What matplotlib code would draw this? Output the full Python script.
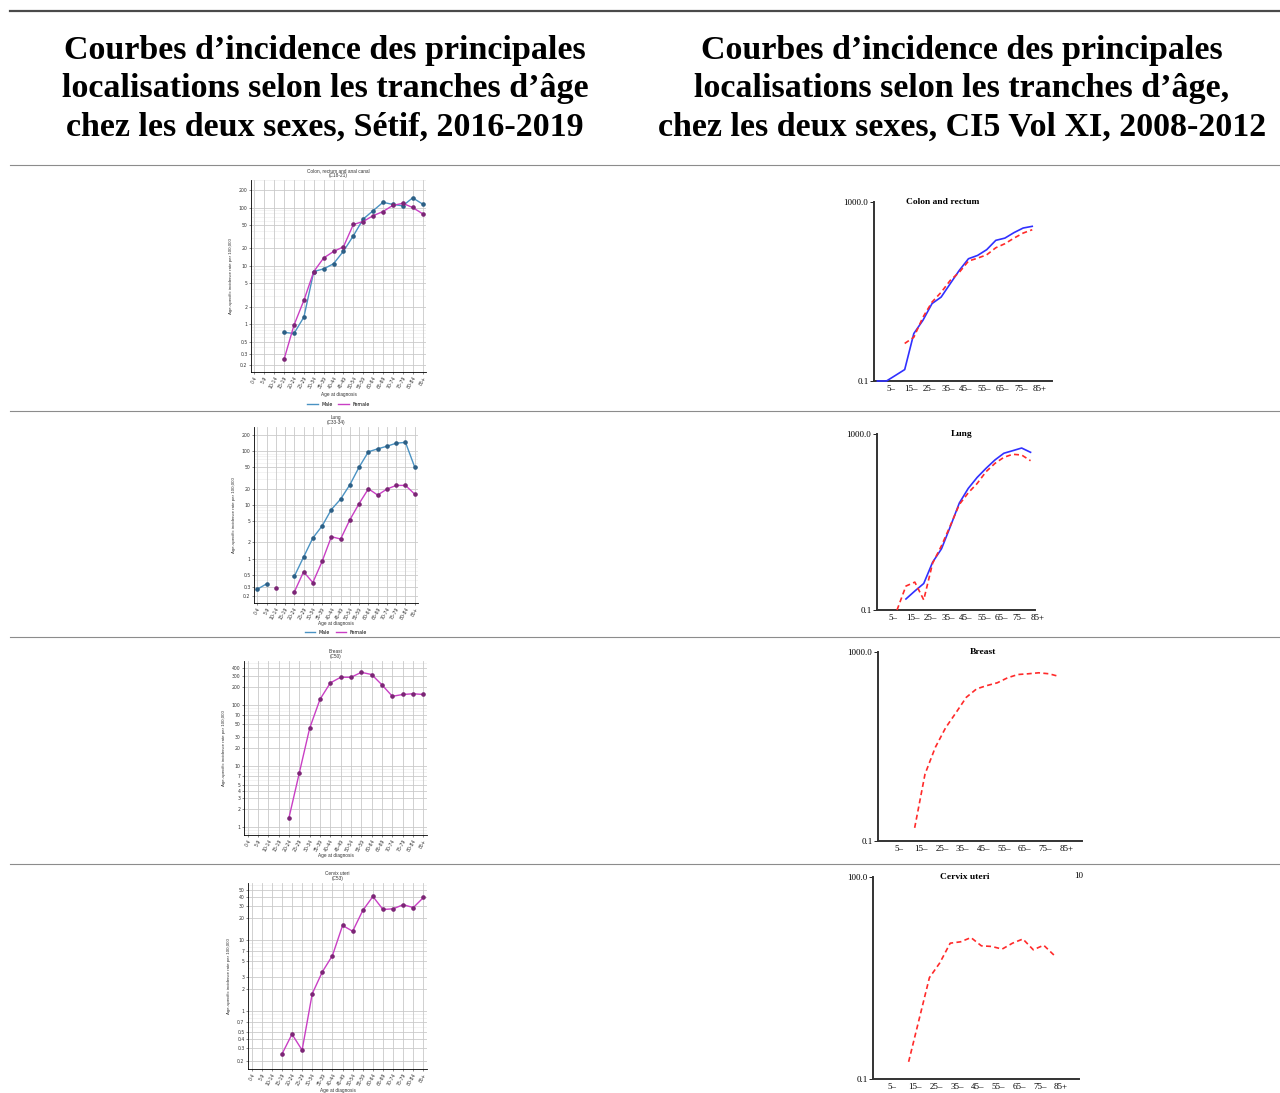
"""Age-specific incidence curves: Setif registry vs CI5 Vol XI, side by side."""

import matplotlib

matplotlib.use("Agg")
import matplotlib.pyplot as plt
import numpy as np
from matplotlib.lines import Line2D
from matplotlib.ticker import NullLocator

nan = np.nan

W, H = 1280, 1093

AGE_GROUPS = ["0-4", "5-9", "10-14", "15-19", "20-24", "25-29", "30-34", "35-39", "40-44",
              "45-49", "50-54", "55-59", "60-64", "65-69", "70-74", "75-79", "80-84", "85+"]
CI5_TICK_LABELS = ["5\u2013", "15\u2013", "25\u2013", "35\u2013", "45\u2013", "55\u2013",
                   "65\u2013", "75\u2013", "85+"]
CI5_TICK_INDEX = [1, 3, 5, 7, 9, 11, 13, 15, 17]

HEADER_LEFT = ("Courbes d\u2019incidence des principales\n"
               "localisations selon les tranches d\u2019\u00e2ge\n"
               "chez les deux sexes, S\u00e9tif, 2016-2019")
HEADER_RIGHT = ("Courbes d\u2019incidence des principales\n"
                "localisations selon les tranches d\u2019\u00e2ge,\n"
                "chez les deux sexes, CI5 Vol XI, 2008-2012")

# Setif 2016-2019, rate per 100,000
SETIF_COLON_MALE = [nan, nan, nan, 0.72, 0.69, 1.32, 8.0, 8.9, 10.9, 17.9, 32.9, 64, 89, 124, 114, 108, 148, 116]
SETIF_COLON_FEMALE = [nan, nan, nan, 0.25, 0.96, 2.56, 8.0, 13.7, 17.7, 21.3, 51.6, 58, 73, 86, 110, 119, 101, 79]
SETIF_LUNG_MALE = [0.27, 0.34, nan, nan, 0.47, 1.07, 2.42, 4.05, 8.2, 12.8, 23.7, 50.5, 97, 110, 123, 140, 145, 50]
SETIF_LUNG_FEMALE = [nan, nan, 0.29, nan, 0.24, 0.57, 0.36, 0.89, 2.56, 2.32, 5.3, 10.6, 19.9, 15.2, 19.7, 23, 23, 15.8]
SETIF_BREAST = [nan, nan, nan, nan, 1.44, 7.8, 42, 125, 232, 287, 287, 346, 318, 215, 140, 150, 154, 150]
SETIF_CERVIX = [nan, nan, nan, 0.245, 0.47, 0.28, 1.74, 3.54, 6.0, 15.9, 13.2, 25.9, 40.7, 26.7, 27.3, 31.2, 28.4, 39.4]

SETIF_COLON_TICKS = [0.2, 0.3, 0.5, 1, 2, 5, 10, 20, 50, 100, 200]
SETIF_LUNG_TICKS = [0.2, 0.3, 0.5, 1, 2, 5, 10, 20, 50, 100, 200]
SETIF_BREAST_TICKS = [1, 2, 3, 4, 5, 7, 10, 20, 30, 50, 70, 100, 200, 300, 400]
SETIF_CERVIX_TICKS = [0.2, 0.3, 0.4, 0.5, 0.7, 1, 2, 3, 5, 7, 10, 20, 30, 40, 50]

# CI5 Vol XI curves
CI5_COLON_MALE = [0.1, 0.1, 0.134, 0.18, 1.15, 2.27, 5.37, 7.5, 15, 29.8, 54, 64, 86, 139, 156, 207, 262, 286]
CI5_COLON_FEMALE = [nan, nan, nan, 0.69, 0.95, 2.66, 5.8, 9.6, 17.7, 27, 47.9, 55.6, 66, 95, 117, 156, 202, 240]
CI5_LUNG_MALE = [nan, nan, nan, 0.178, 0.27, 0.40, 1.22, 2.47, 8, 27, 58, 103, 166, 257, 365, 418, 480, 384]
CI5_LUNG_FEMALE = [nan, nan, 0.1, 0.35, 0.43, 0.17, 1.16, 2.9, 8.4, 25, 46, 75, 139, 215, 295, 346, 333, 247]
CI5_BREAST = [nan, nan, nan, 0.19, 2.6, 9.6, 25, 52, 110, 166, 195, 223, 285, 334, 346, 363, 346, 303]
CI5_CERVIX = [nan, nan, nan, 0.18, 0.76, 3.2, 5.3, 10.4, 10.9, 12.6, 9.5, 9.3, 8.5, 10.4, 12, 8.3, 9.7, 6.9]

MALE_LINE, MALE_POINT = "#4a92c2", "#2c5f85"
FEMALE_LINE, FEMALE_POINT = "#c93fc4", "#7b2575"
CI5_BLUE, CI5_RED = "#3030ff", "#ff2a2a"
SERIF = ["Liberation Serif", "DejaVu Serif"]
SANS = ["Liberation Sans", "DejaVu Sans"]


def px_axes(fig, left, top, right, bottom):
    """Add axes from pixel edges measured from the top-left corner."""
    return fig.add_axes([left / W, 1 - bottom / H, (right - left) / W, (bottom - top) / H])


def fmt_tick(v):
    return f"{v:g}"


def draw_setif(fig, box, title, series, yticks, ylim, ylabel_dx, legend_y=None):
    ax = px_axes(fig, *box)
    x = np.arange(len(AGE_GROUPS))
    lo, hi = int(np.floor(np.log10(ylim[0]))), int(np.ceil(np.log10(ylim[1])))
    for e in range(lo, hi + 1):
        for k in range(1, 10):
            ax.axhline(k * 10.0 ** e, color="#ececec", lw=0.45, zorder=0)
    for t in yticks:
        ax.axhline(t, color="#cdcdcd", lw=0.6, zorder=0)
    for i in x:
        ax.axvline(i, color="#c9c9c9", lw=0.6, zorder=0)

    for values, line_c, point_c, name in series:
        ax.plot(x, values, color=line_c, lw=1.0, marker="o", ms=2.3,
                mfc=point_c, mec=point_c, label=name, zorder=3)

    ax.set_yscale("log")
    ax.set_ylim(*ylim)
    ax.set_xlim(-0.35, 17.35)
    ax.set_yticks(yticks)
    ax.set_yticklabels([fmt_tick(t) for t in yticks])
    ax.yaxis.set_minor_locator(NullLocator())
    ax.set_xticks(x)
    ax.set_xticklabels(AGE_GROUPS, rotation=60, ha="right", rotation_mode="anchor")
    ax.tick_params(labelsize=3.3, length=1.5, width=0.4, pad=1, colors="#333333")
    for side in ("top", "right"):
        ax.spines[side].set_visible(False)
    for side in ("left", "bottom"):
        ax.spines[side].set_linewidth(0.6)

    ax.set_title(title, fontsize=3.4, pad=2, linespacing=1.1, family=SANS, color="#333333")
    ax.text(0.5, -0.115, "Age at diagnosis", transform=ax.transAxes, ha="center",
            va="center", fontsize=3.4, family=SANS, color="#333333")
    ax.text(ylabel_dx, 0.5, "Age-specific incidence rate per 100,000", transform=ax.transAxes,
            rotation=90, ha="center", va="center", fontsize=3.2, family=SANS, color="#333333")
    if legend_y is not None:
        ax.legend(loc="center", bbox_to_anchor=(0.5, legend_y), ncol=2, frameon=False,
                  fontsize=3.4, handlelength=2.2, columnspacing=1.2, markerscale=0)
    return ax


def draw_ci5(fig, box, title, title_x, series, ylim, xlim):
    ax = px_axes(fig, *box)
    x = np.arange(len(AGE_GROUPS))
    for values, color, style in series:
        ax.plot(x, values, color=color, ls=style, lw=1.2, clip_on=False, zorder=4)

    ax.set_yscale("log")
    ax.set_ylim(*ylim)
    ax.set_xlim(*xlim)
    ax.set_yticks(ylim)
    ax.set_yticklabels([f"{v:.1f}" for v in ylim])
    ax.yaxis.set_minor_locator(NullLocator())
    ax.set_xticks(CI5_TICK_INDEX)
    ax.set_xticklabels(CI5_TICK_LABELS, ha="left")
    ax.tick_params(axis="y", length=3, width=0.6, pad=1, labelsize=6.5)
    ax.tick_params(axis="x", length=0, pad=3, labelsize=6.5)
    for lab in ax.get_xticklabels() + ax.get_yticklabels():
        lab.set_family(SERIF)
    for side in ("top", "right"):
        ax.spines[side].set_visible(False)
    ax.spines["left"].set_linewidth(1.4)
    ax.spines["bottom"].set_linewidth(1.4)
    ax.spines["left"].set_color("#333333")
    ax.spines["bottom"].set_color("#333333")
    ax.text(title_x, 1.0, title, transform=ax.transAxes, ha="center", va="center",
            fontsize=6.8, weight="bold", family=SERIF)
    return ax


def main():
    fig = plt.figure(figsize=(W / 100, H / 100), dpi=100)

    # table rules
    fig.add_artist(Line2D([10 / W, 1], [1 - 11 / H] * 2, color="#4a4a4a", lw=1.6))
    for y in (165, 411, 637, 864):
        fig.add_artist(Line2D([10 / W, 1], [1 - y / H] * 2, color="#8c8c8c", lw=0.8))

    for cx, text in ((325, HEADER_LEFT), (962, HEADER_RIGHT)):
        fig.text(cx / W, 1 - 89 / H, text, ha="center", va="center", fontsize=24.5,
                 weight="bold", family=SERIF, linespacing=1.32)

    # Setif panels
    draw_setif(fig, (251, 180, 426, 372), "Colon, rectum and anal canal\n(C18-21)",
               [(SETIF_COLON_MALE, MALE_LINE, MALE_POINT, "Male"),
                (SETIF_COLON_FEMALE, FEMALE_LINE, FEMALE_POINT, "Female")],
               SETIF_COLON_TICKS, (0.15, 300), -0.115, legend_y=-0.167)
    draw_setif(fig, (254, 427, 418, 603), "Lung\n(C33-34)",
               [(SETIF_LUNG_MALE, MALE_LINE, MALE_POINT, "Male"),
                (SETIF_LUNG_FEMALE, FEMALE_LINE, FEMALE_POINT, "Female")],
               SETIF_LUNG_TICKS, (0.15, 280), -0.12, legend_y=-0.165)
    draw_setif(fig, (244, 661, 427, 835), "Breast\n(C50)",
               [(SETIF_BREAST, FEMALE_LINE, FEMALE_POINT, "Female")],
               SETIF_BREAST_TICKS, (0.75, 530), -0.11)
    draw_setif(fig, (248, 883, 427, 1069), "Cervix uteri\n(C53)",
               [(SETIF_CERVIX, FEMALE_LINE, FEMALE_POINT, "Female")],
               SETIF_CERVIX_TICKS, (0.152, 63), -0.105)

    # CI5 panels
    draw_ci5(fig, (874, 202, 1052, 381), "Colon and rectum", 0.387,
             [(CI5_COLON_MALE, CI5_BLUE, "-"), (CI5_COLON_FEMALE, CI5_RED, (0, (3, 2)))],
             (0.1, 1000.0), (-0.37, 19.17))
    draw_ci5(fig, (877, 434, 1035, 610), "Lung", 0.537,
             [(CI5_LUNG_MALE, CI5_BLUE, "-"), (CI5_LUNG_FEMALE, CI5_RED, (0, (3, 2)))],
             (0.1, 1000.0), (-0.25, 17.5))
    draw_ci5(fig, (878, 652, 1082, 841), "Breast", 0.516,
             [(CI5_BREAST, CI5_RED, (0, (3, 2)))],
             (0.1, 1000.0), (-0.55, 19.2))
    draw_ci5(fig, (873, 877, 1079, 1079), "Cervix uteri", 0.445,
             [(CI5_CERVIX, CI5_RED, (0, (3, 2)))],
             (0.1, 100.0), (-0.43, 19.4))
    fig.text(1074 / W, 1 - 876 / H, "10", ha="left", va="center", fontsize=6.5, family=SERIF)

    fig.savefig("out.png", dpi=100)
    plt.close(fig)


if __name__ == "__main__":
    main()
